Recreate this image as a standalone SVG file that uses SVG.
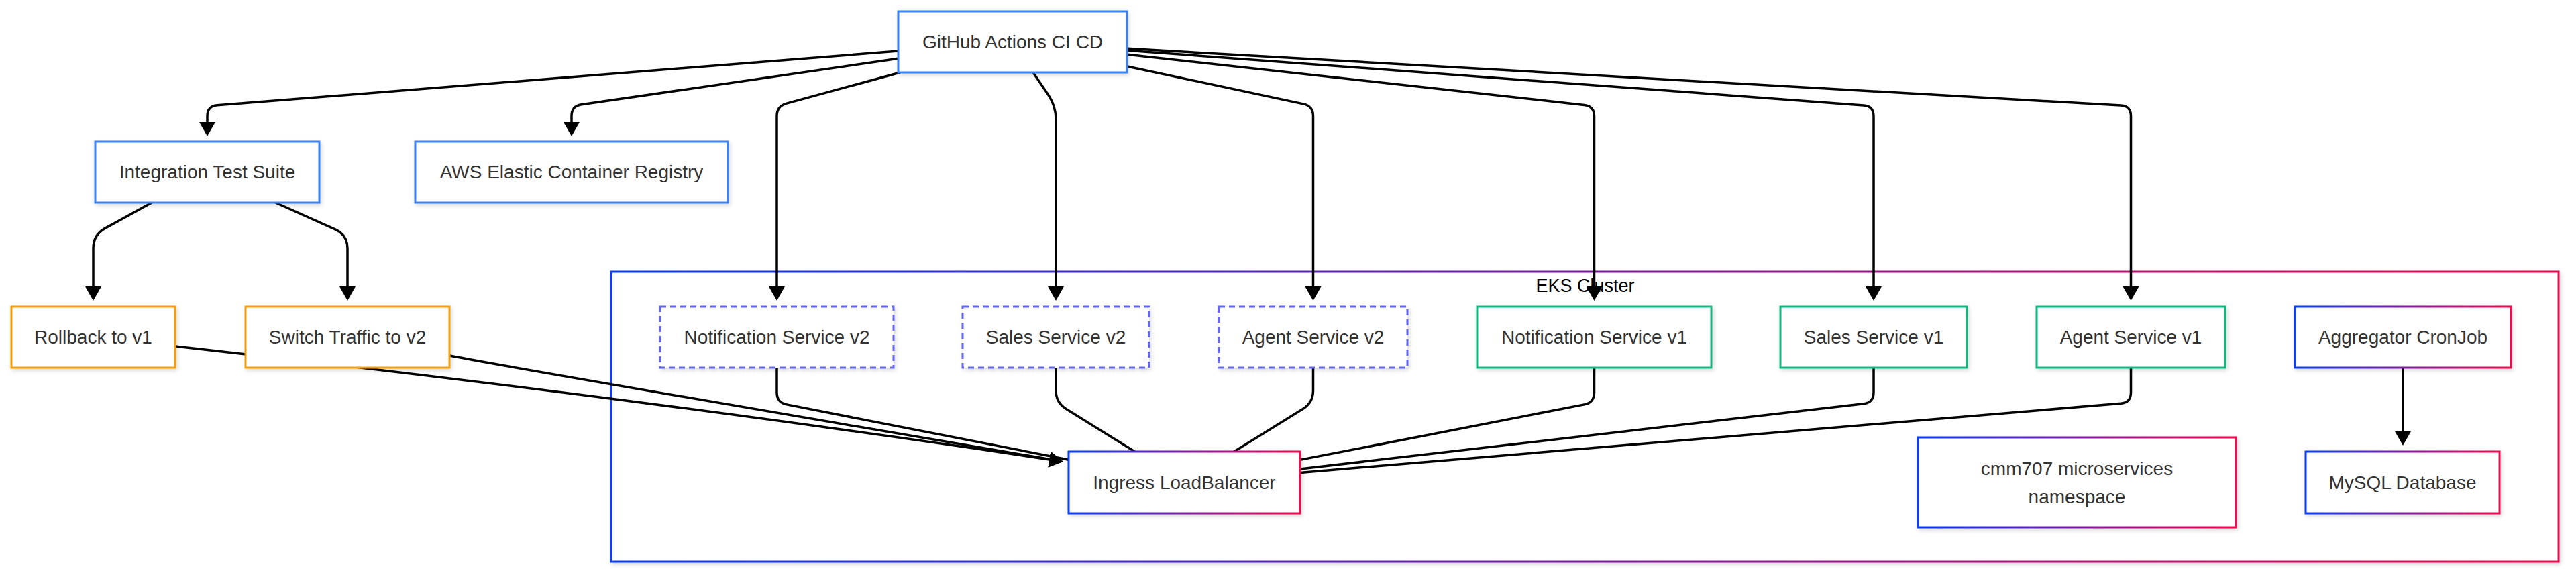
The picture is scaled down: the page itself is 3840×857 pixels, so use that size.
<svg xmlns="http://www.w3.org/2000/svg" width="3840" height="857" viewBox="0 0 3840 857">
<style>
.node rect{fill:#fff;stroke-width:3;filter:url(#shadow)}
.blue rect{stroke:#3b82f6}
.orange rect{stroke:#f59e0b}
.green rect{stroke:#10b981}
.dash rect{stroke:#6366f1;stroke-dasharray:9 6}
.grad rect{stroke:url(#bluered)}
.node text{font-family:"Liberation Sans",Arial,sans-serif;font-size:28px;fill:#333;text-anchor:middle;dominant-baseline:central}
.edges path{fill:none;stroke:#000;stroke-width:3.5}
.arrow{marker-end:url(#arrowhead)}
.cluster-label{font-family:"Liberation Sans",Arial,sans-serif;font-size:27px;fill:#000;text-anchor:middle;dominant-baseline:central}
</style>
<defs>
<linearGradient id="bluered" x1="0" y1="0" x2="1" y2="0" gradientUnits="objectBoundingBox">
<stop offset="0" stop-color="#0a3cf5"/>
<stop offset="0.5" stop-color="#7a1f9e"/>
<stop offset="1" stop-color="#ee0a4e"/>
</linearGradient>
<filter id="shadow" x="-10%" y="-20%" width="120%" height="150%">
<feDropShadow dx="2" dy="3" stdDeviation="3" flood-color="#000" flood-opacity="0.15"/>
</filter>
<marker id="arrowhead" viewBox="0 0 21 24" refX="11" refY="12" markerWidth="21" markerHeight="24" markerUnits="userSpaceOnUse" orient="auto">
<path d="M0,0 L21,12 L0,24 z" fill="#000"/>
</marker>
</defs>
<rect width="3840" height="857" fill="#fff"/>

<g id="eks-cluster" class="node grad">
<rect x="911" y="405" width="2903" height="432"/>
<text class="cluster-label" x="2363" y="426" style="fill:#000;font-size:27px">EKS Cluster</text>
</g>

<g id="edges" class="edges">
<path class="arrow" d="M1339,76.1 L323.9,156.8 Q309,158 309,173 L309,193"/>
<path class="arrow" d="M1339,87.3 L866.8,155.8 Q852,158 852,173 L852,193"/>
<path class="arrow" d="M1342,108 L1172.5,154.1 Q1158,158 1158,173 L1158,438"/>
<path class="arrow" d="M1540,108 L1562.8,141.4 Q1574,158 1574,178 L1574,438"/>
<path class="arrow" d="M1680.5,99 L1942.8,154.9 Q1957.5,158 1957.5,173 L1957.5,438"/>
<path class="arrow" d="M1680.5,81.3 L2361.6,156.4 Q2376.5,158 2376.5,173 L2376.5,438"/>
<path class="arrow" d="M1680.5,75.2 L2778,156.9 Q2793,158 2793,173 L2793,438"/>
<path class="arrow" d="M1680.5,72.3 L3161.5,157.1 Q3176.5,158 3176.5,173 L3176.5,438"/>
<path class="arrow" d="M226.3,302 L156.5,340.4 Q139,350 139,370 L139,438"/>
<path class="arrow" d="M410.7,302 L499.7,341.8 Q518,350 518,370 L518,438"/>
<path class="arrow" d="M261,516 Q963,594.7 1575.1,686.5"/>
<path class="arrow" d="M670,530 Q765,548.6 1575.1,686.3"/>
<path d="M1158,549 L1158,585 Q1158,600 1172.7,602.9 L1593,685.2"/>
<path d="M1574,549 L1574,582 Q1574,600 1589.3,609.5 L1691.5,673"/>
<path d="M1957.5,549 L1957.5,582 Q1957.5,600 1942.2,609.5 L1839.7,673"/>
<path d="M2376.5,549 L2376.5,585 Q2376.5,600 2361.8,602.9 L1938,685.4"/>
<path d="M2793,549 L2793,585 Q2793,600 2778.1,601.7 L1938,699"/>
<path d="M3176.5,549 L3176.5,585 Q3176.5,600 3161.6,601.3 L1938,704.4"/>
<path class="arrow" d="M3582,549 L3582,654"/>
</g>

<g id="github-actions" class="node blue">
<rect x="1339" y="17" width="341" height="91"/>
<text x="1509.5" y="62.5">GitHub Actions CI CD</text>
</g>
<g id="integration-test-suite" class="node blue">
<rect x="142" y="211" width="334" height="91"/>
<text x="309" y="256.5">Integration Test Suite</text>
</g>
<g id="aws-ecr" class="node blue">
<rect x="619" y="211" width="466" height="91"/>
<text x="852" y="256.5">AWS Elastic Container Registry</text>
</g>
<g id="rollback" class="node orange">
<rect x="17" y="457" width="244" height="91"/>
<text x="139" y="502.5">Rollback to v1</text>
</g>
<g id="switch-traffic" class="node orange">
<rect x="366" y="457" width="304" height="91"/>
<text x="518" y="502.5">Switch Traffic to v2</text>
</g>
<g id="notification-v2" class="node dash">
<rect x="984" y="457" width="348" height="91"/>
<text x="1158" y="502.5">Notification Service v2</text>
</g>
<g id="sales-v2" class="node dash">
<rect x="1435" y="457" width="278" height="91"/>
<text x="1574" y="502.5">Sales Service v2</text>
</g>
<g id="agent-v2" class="node dash">
<rect x="1817" y="457" width="281" height="91"/>
<text x="1957.5" y="502.5">Agent Service v2</text>
</g>
<g id="notification-v1" class="node green">
<rect x="2202" y="457" width="349" height="91"/>
<text x="2376.5" y="502.5">Notification Service v1</text>
</g>
<g id="sales-v1" class="node green">
<rect x="2654" y="457" width="278" height="91"/>
<text x="2793" y="502.5">Sales Service v1</text>
</g>
<g id="agent-v1" class="node green">
<rect x="3036" y="457" width="281" height="91"/>
<text x="3176.5" y="502.5">Agent Service v1</text>
</g>
<g id="aggregator-cronjob" class="node grad">
<rect x="3421" y="457" width="322" height="91"/>
<text x="3582" y="502.5">Aggregator CronJob</text>
</g>
<g id="ingress-loadbalancer" class="node grad">
<rect x="1593" y="673" width="345" height="92"/>
<text x="1765.5" y="719">Ingress LoadBalancer</text>
</g>
<g id="namespace" class="node grad">
<rect x="2859" y="652" width="474" height="134"/>
<text x="3096" y="698">cmm707 microservices</text>
<text x="3096" y="740">namespace</text>
</g>
<g id="mysql-database" class="node grad">
<rect x="3437" y="673" width="289" height="92"/>
<text x="3581.5" y="719">MySQL Database</text>
</g>
</svg>
